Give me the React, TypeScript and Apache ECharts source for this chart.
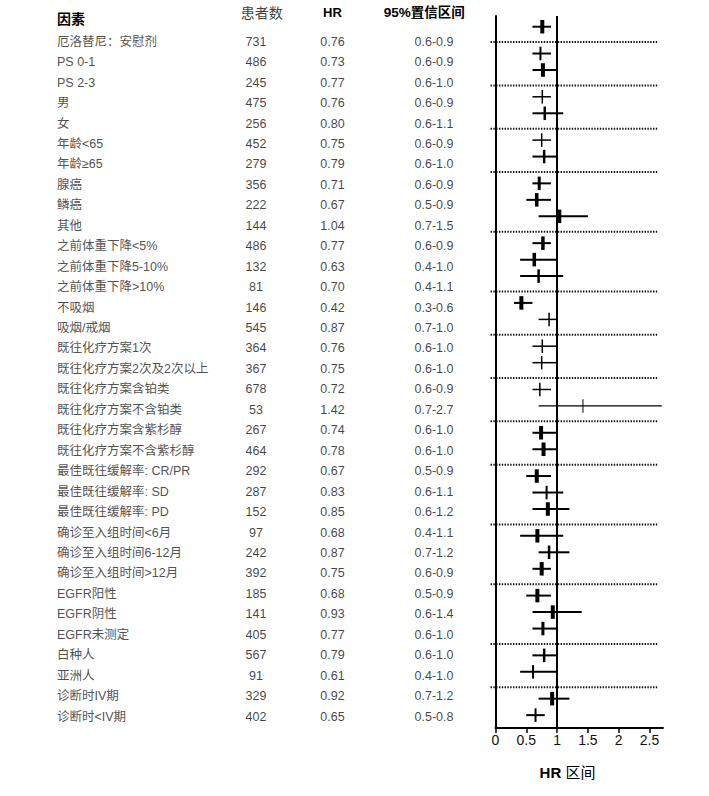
import React, { useEffect, useRef } from "react";
import * as echarts from "echarts";

// ---------- data ----------
const factors = [
  "厄洛替尼：安慰剂", "PS 0-1", "PS 2-3", "男", "女", "年龄<65", "年龄≥65",
  "腺癌", "鳞癌", "其他", "之前体重下降<5%", "之前体重下降5-10%", "之前体重下降>10%",
  "不吸烟", "吸烟/戒烟", "既往化疗方案1次", "既往化疗方案2次及2次以上",
  "既往化疗方案含铂类", "既往化疗方案不含铂类", "既往化疗方案含紫杉醇", "既往化疗方案不含紫杉醇",
  "最佳既往缓解率: CR/PR", "最佳既往缓解率: SD", "最佳既往缓解率: PD",
  "确诊至入组时间<6月", "确诊至入组时间6-12月", "确诊至入组时间>12月",
  "EGFR阳性", "EGFR阴性", "EGFR未测定", "白种人", "亚洲人", "诊断时IV期", "诊断时<IV期",
];
const patients = [731, 486, 245, 475, 256, 452, 279, 356, 222, 144, 486, 132, 81, 146, 545, 364, 367, 678, 53, 267, 464, 292, 287, 152, 97, 242, 392, 185, 141, 405, 567, 91, 329, 402];
const hrValues = [0.76, 0.73, 0.77, 0.76, 0.80, 0.75, 0.79, 0.71, 0.67, 1.04, 0.77, 0.63, 0.70, 0.42, 0.87, 0.76, 0.75, 0.72, 1.42, 0.74, 0.78, 0.67, 0.83, 0.85, 0.68, 0.87, 0.75, 0.68, 0.93, 0.77, 0.79, 0.61, 0.92, 0.65];
const ciLow = [0.6, 0.6, 0.6, 0.6, 0.6, 0.6, 0.6, 0.6, 0.5, 0.7, 0.6, 0.4, 0.4, 0.3, 0.7, 0.6, 0.6, 0.6, 0.7, 0.6, 0.6, 0.5, 0.6, 0.6, 0.4, 0.7, 0.6, 0.5, 0.6, 0.6, 0.6, 0.4, 0.7, 0.5];
const ciHigh = [0.9, 0.9, 1.0, 0.9, 1.1, 0.9, 1.0, 0.9, 0.9, 1.5, 0.9, 1.0, 1.1, 0.6, 1.0, 1.0, 1.0, 0.9, 2.7, 1.0, 1.0, 0.9, 1.1, 1.2, 1.1, 1.2, 0.9, 0.9, 1.4, 1.0, 1.0, 1.0, 1.2, 0.8];
const groupSizes = [1, 2, 2, 2, 3, 3, 2, 2, 2, 2, 3, 3, 3, 2, 2];
const headers = ["因素", "患者数", "HR", "95%置信区间"];
const xAxisTitle = "HR 区间";

// ---------- styles (not data) ----------
const tickWidths = [4, 2, 4, 1.5, 2.5, 1.5, 2.5, 3, 3.5, 3.5, 3.5, 3.5, 2.5, 4, 1.5, 1.5, 1.5, 1.5, 1, 4, 4, 4, 2, 4, 4, 2.5, 4, 4, 4, 3, 2.5, 2, 4, 2];
const ciWidths = [2, 2, 2, 1.5, 2, 1.5, 2, 2, 2, 2, 2, 2, 2, 2, 1.5, 1.5, 1.5, 1.5, 1.2, 2, 2, 2, 2, 2, 2, 2, 2, 2, 2, 2, 2, 2, 2, 2];

const FONT = "'Liberation Sans', Arial, 'Noto Sans CJK SC', sans-serif";
const GAP = 0.625;

// row positions on the forest axis (row index + extra gap per group)
const rowPos: number[] = [];
const sepPos: number[] = [];
{
  let r = 0;
  groupSizes.forEach((size, g) => {
    for (let k = 0; k < size; k++) {
      rowPos.push(r + g * GAP);
      r++;
    }
    if (g < groupSizes.length - 1) {
      sepPos.push(r - 0.5 + (g + 0.5) * GAP + 0.12);
    }
  });
}

export default function App() {
  const ref = useRef<HTMLDivElement>(null);

  useEffect(() => {
    if (!ref.current) return;
    document.body.style.margin = "0";
    const chart = echarts.init(ref.current, undefined, { renderer: "svg" });

    const markData = factors.map((_, i) => [hrValues[i], rowPos[i], ciLow[i], ciHigh[i], tickWidths[i], ciWidths[i]]);
    const sepData = sepPos.map((p) => [0, p]);

    const textSeries = (x: number, align: string, fmt: (i: number) => string, id: string, color: string) => ({
      id,
      type: "scatter",
      xAxisIndex: 1,
      yAxisIndex: 1,
      symbolSize: 1,
      silent: true,
      itemStyle: { color: "rgba(0,0,0,0)" },
      data: factors.map((_, i) => [x, i]),
      label: {
        show: true,
        position: "inside",
        align,
        verticalAlign: "middle",
        formatter: (p: any) => fmt(p.dataIndex),
        fontSize: 12.5,
        color,
        fontFamily: FONT,
      },
    });

    const option: any = {
      animation: false,
      backgroundColor: "#fff",
      grid: [
        { left: 495.5, top: 16, right: 46, bottom: 68 },
        { left: 0, right: 0, top: 31.5, bottom: 69.2 },
      ],
      xAxis: [
        {
          type: "value",
          gridIndex: 0,
          min: 0,
          max: 2.72,
          interval: 0.5,
          axisLine: { show: true, onZero: false, lineStyle: { color: "#000", width: 2 } },
          axisTick: { show: true, length: 5, lineStyle: { color: "#000", width: 1.5 } },
          axisLabel: {
            show: true,
            showMaxLabel: false,
            margin: 5,
            fontSize: 14,
            color: "#111",
            fontFamily: FONT,
            formatter: (v: number) => String(v),
          },
          splitLine: { show: false },
        },
        { type: "value", gridIndex: 1, min: 0, max: 709, show: false },
      ],
      yAxis: [
        {
          type: "value",
          gridIndex: 0,
          inverse: true,
          min: -0.65,
          max: 42.53,
          axisLine: { show: true, onZero: false, lineStyle: { color: "#000", width: 2 } },
          axisTick: { show: false },
          axisLabel: { show: false },
          splitLine: { show: false },
        },
        {
          type: "category",
          gridIndex: 1,
          inverse: true,
          data: factors.map((_, i) => i),
          show: false,
        },
      ],
      graphic: [
        { type: "text", left: 57, top: 12, style: { text: headers[0], fontSize: 14, fontWeight: "bold", fontFamily: FONT, fill: "#000" } },
        { type: "text", x: 261.7, y: 12.5, style: { text: headers[1], fontSize: 14, fontFamily: FONT, fill: "#444", align: "center", verticalAlign: "middle", textAlign: "center", textVerticalAlign: "middle" } },
        { type: "text", x: 332.5, y: 12.5, style: { text: headers[2], fontSize: 13, fontWeight: "bold", fontFamily: FONT, fill: "#000", align: "center", verticalAlign: "middle", textAlign: "center", textVerticalAlign: "middle" } },
        { type: "text", x: 424.3, y: 12.5, style: { text: headers[3], fontSize: 13.5, fontWeight: "bold", fontFamily: FONT, fill: "#000", align: "center", verticalAlign: "middle", textAlign: "center", textVerticalAlign: "middle" } },
        {
          type: "text",
          x: 567.5,
          y: 772.5,
          style: {
            text: "{b|" + xAxisTitle.split(" ")[0] + "} " + xAxisTitle.split(" ")[1],
            rich: { b: { fontWeight: "bold", fontSize: 15, fontFamily: FONT, fill: "#000" } },
            fontSize: 15,
            fontFamily: FONT,
            fill: "#000",
            align: "center",
            verticalAlign: "middle",
            textAlign: "center",
            textVerticalAlign: "middle",
          },
        },
      ],
      series: [
        {
          id: "separators",
          type: "custom",
          xAxisIndex: 0,
          yAxisIndex: 0,
          clip: false,
          silent: true,
          data: sepData,
          encode: { x: 0, y: 1 },
          renderItem: (_: any, api: any) => {
            const p = api.value(1);
            const a = api.coord([-0.08, p]);
            const b = api.coord([2.64, p]);
            return {
              type: "line",
              shape: { x1: a[0], y1: a[1], x2: b[0], y2: b[1] },
              style: { stroke: "#111", lineWidth: 2, lineDash: [1.4, 1.4] },
            };
          },
        },
        {
          id: "forest",
          type: "custom",
          xAxisIndex: 0,
          yAxisIndex: 0,
          clip: true,
          silent: true,
          data: markData,
          encode: { x: 0, y: 1 },
          renderItem: (_: any, api: any) => {
            const y = api.value(1);
            const c = api.coord([api.value(0), y]);
            const a = api.coord([api.value(2), y]);
            const b = api.coord([api.value(3), y]);
            const w = api.value(4);
            const lw = api.value(5);
            return {
              type: "group",
              children: [
                { type: "line", shape: { x1: a[0], y1: c[1], x2: b[0], y2: c[1] }, style: { stroke: "#000", lineWidth: lw } },
                { type: "rect", shape: { x: c[0] - w / 2, y: c[1] - 6.75, width: w, height: 13.5 }, style: { fill: "#000" } },
              ],
            };
          },
          markLine: {
            silent: true,
            symbol: ["none", "none"],
            label: { show: false },
            lineStyle: { color: "#000", width: 2, type: "solid" },
            data: [{ xAxis: 1 }],
          },
        },
        textSeries(57, "left", (i) => factors[i], "names", "#222"),
        textSeries(256, "center", (i) => String(patients[i]), "patients", "#111"),
        textSeries(332.5, "center", (i) => hrValues[i].toFixed(2), "hr", "#111"),
        textSeries(434, "center", (i) => ciLow[i].toFixed(1) + "-" + ciHigh[i].toFixed(1), "ci", "#111"),
      ],
    };

    chart.setOption(option);
    return () => chart.dispose();
  }, []);

  return (
    <div
      ref={ref}
      style={{ position: "fixed", left: 0, top: 0, width: 709, height: 796, background: "#fff" }}
    />
  );
}
